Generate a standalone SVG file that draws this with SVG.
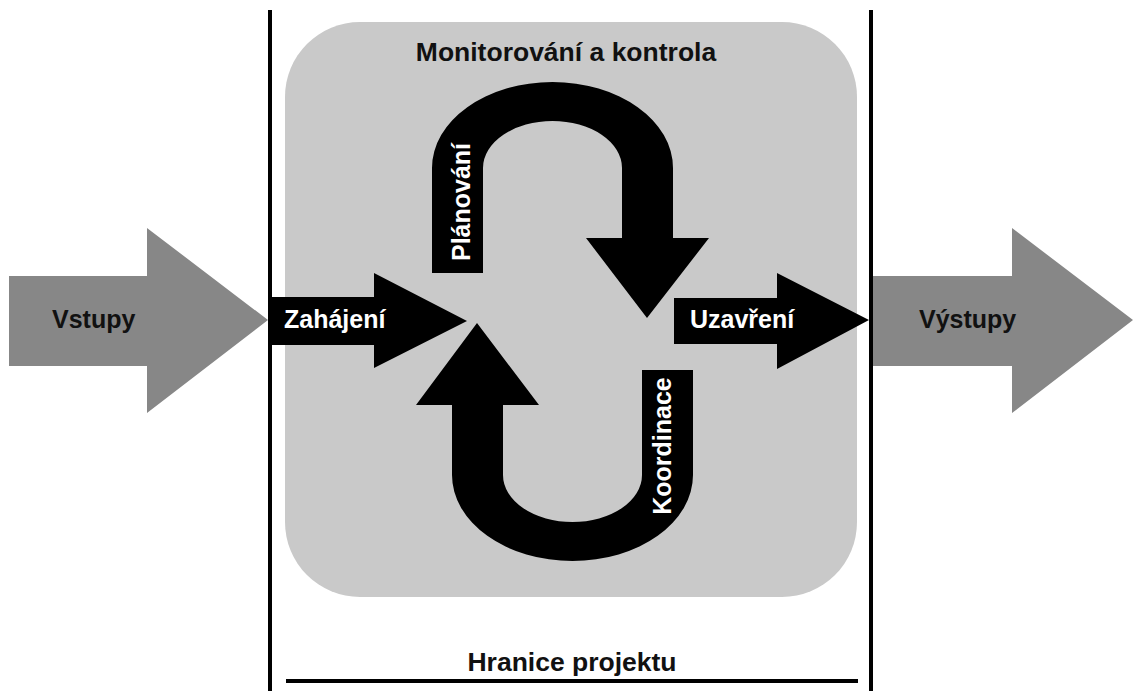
<svg xmlns="http://www.w3.org/2000/svg" width="1133" height="691" viewBox="0 0 1133 691">
  <style>
    .lbl { font-family: "Liberation Sans", Arial, sans-serif; font-weight: bold; font-size: 25px; }
    .title { font-size: 26.5px; }
    .dark { fill: #111111; }
    .light { fill: #ffffff; }
    .grey-arrow { fill: #878787; }
    .black-shape { fill: #000000; }
    .boundary { stroke: #000000; stroke-width: 4; fill: none; }
  </style>

  <rect width="1133" height="691" fill="#ffffff"/>

  <!-- monitoring and control area -->
  <g id="monitoring">
    <rect x="285" y="22" width="572" height="575" rx="75" ry="75" fill="#c9c9c9"/>
    <text class="lbl title dark" x="566" y="61" text-anchor="middle">Monitorování a kontrola</text>
  </g>

  <!-- project boundary -->
  <g id="boundary">
    <line class="boundary" x1="270" y1="10" x2="270" y2="691"/>
    <line class="boundary" x1="871" y1="10" x2="871" y2="691"/>
    <line class="boundary" x1="286" y1="681" x2="858" y2="681"/>
    <text class="lbl title dark" x="572" y="671" text-anchor="middle">Hranice projektu</text>
  </g>

  <g id="connectors">
    <!-- inputs -->
    <g id="vstupy">
      <polygon class="grey-arrow" points="9,276 147,276 147,228 268,320 147,413 147,366 9,366"/>
      <text class="lbl dark" x="52" y="328">Vstupy</text>
    </g>

    <!-- initiation -->
    <g id="zahajeni">
      <polygon class="black-shape" points="272,297 374,297 374,273 467,321 374,368 374,345 272,345"/>
      <text class="lbl light" x="284" y="328">Zahájení</text>
    </g>

    <!-- planning loop -->
    <g id="planovani">
      <path class="black-shape" d="M432,273 L432,168 A120.5,86 0 0 1 673,168 L673,238 L709,238 L647,318 L586,238 L622,238 L622,168 A69.5,47 0 0 0 483,168 L483,273 Z"/>
      <text class="lbl light" transform="translate(470,202) rotate(-90)" text-anchor="middle">Plánování</text>
    </g>

    <!-- coordination loop -->
    <g id="koordinace">
      <path class="black-shape" d="M642,370 L693,370 L693,475 A120.5,86 0 0 1 452,475 L452,405 L416,405 L477,323 L539,405 L503,405 L503,475 A69.5,47 0 0 0 642,475 Z"/>
      <text class="lbl light" transform="translate(671,446) rotate(-90)" text-anchor="middle">Koordinace</text>
    </g>

    <!-- closing -->
    <g id="uzavreni">
      <polygon class="black-shape" points="674,298 777,298 777,273 869,320 777,369 777,344 674,344"/>
      <text class="lbl light" x="690" y="328">Uzavření</text>
    </g>

    <!-- outputs -->
    <g id="vystupy">
      <polygon class="grey-arrow" points="873,276 1012,276 1012,228 1133,320 1012,413 1012,366 873,366"/>
      <text class="lbl dark" x="919" y="328">Výstupy</text>
    </g>
  </g>
</svg>
